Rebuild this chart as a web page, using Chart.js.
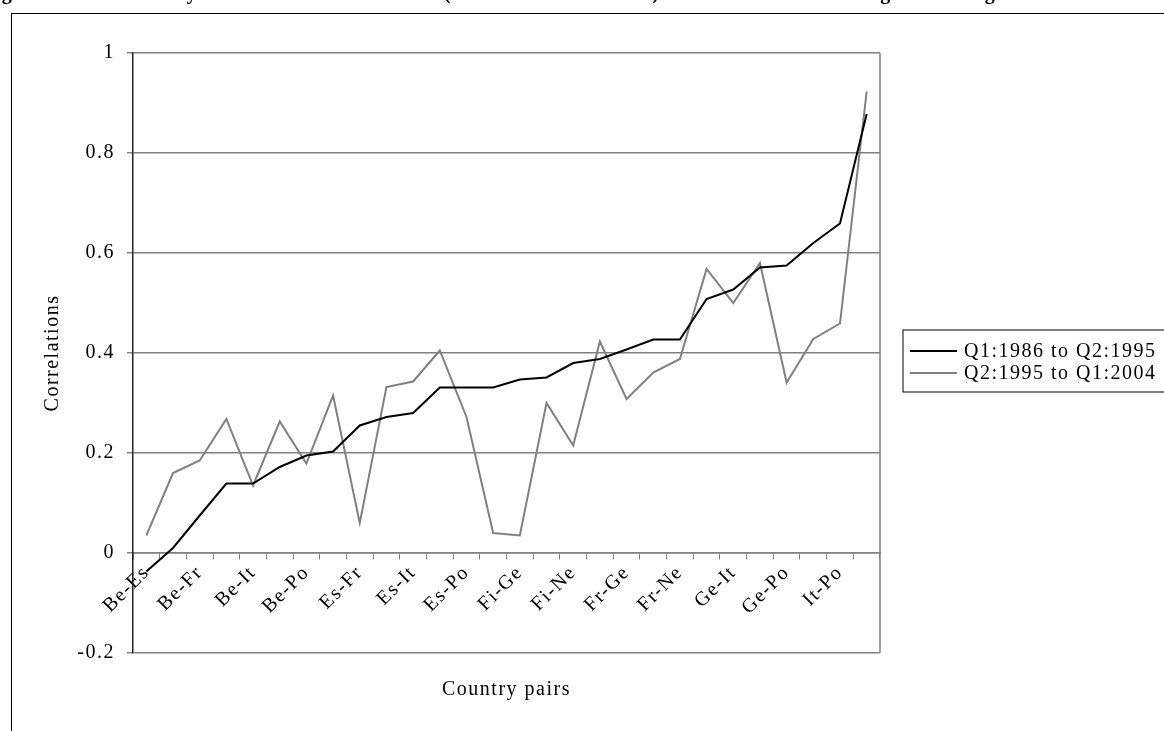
<!DOCTYPE html>
<html>
<head>
<meta charset="utf-8">
<script src="https://cdn.jsdelivr.net/npm/chart.js@4"></script>
<style>
  body { margin: 0; background: #fff; overflow: hidden; }
  #frame { position: absolute; left: 11px; top: 13px; width: 2000px; height: 2000px;
           border-left: 1px solid #000; border-top: 1.5px solid #000; }
  #myChart { position: absolute; left: 0; top: 0; }
</style>
</head>
<body>
<div id="frame"></div>
<canvas id="myChart" width="1164" height="731"></canvas>
<script>
const ctx = document.getElementById("myChart");

// country pairs, alphabetical (only every second one is labelled)
const pairs = [
	"Be-Es", "Be-Fi", "Be-Fr", "Be-Ge", "Be-It", "Be-Ne", "Be-Po",
	"Es-Fi", "Es-Fr", "Es-Ge", "Es-It", "Es-Ne", "Es-Po",
	"Fi-Fr", "Fi-Ge", "Fi-It", "Fi-Ne", "Fi-Po",
	"Fr-Ge", "Fr-It", "Fr-Ne", "Fr-Po",
	"Ge-It", "Ge-Ne", "Ge-Po",
	"It-Ne", "It-Po", "Ne-Po",
];
const period1 = [
	-0.037, 0.01, 0.075, 0.139, 0.139, 0.172, 0.195, 0.203, 0.255, 0.272,
	0.28, 0.331, 0.331, 0.331, 0.347, 0.351, 0.38, 0.388, 0.407, 0.427,
	0.427, 0.508, 0.527, 0.571, 0.575, 0.62, 0.659, 0.878,
];
const period2 = [
	0.035, 0.16, 0.185, 0.268, 0.135, 0.263, 0.179, 0.315, 0.06, 0.332,
	0.343, 0.405, 0.272, 0.04, 0.035, 0.3, 0.215, 0.423, 0.308, 0.361,
	0.388, 0.568, 0.5, 0.58, 0.341, 0.428, 0.459, 0.923,
];
const seriesNames = ["Q1:1986 to Q2:1995", "Q2:1995 to Q1:2004"];
const yTicks = [-0.2, 0, 0.2, 0.4, 0.6, 0.8, 1];

// figure caption, only its lowest pixels are inside the picture
const titleText = "Figure 6: Business Cycle Correlations of GDP (HP detrended series) in both halves ranking according to the first half";
const serif = "'Liberation Serif', 'Times New Roman', serif";

const extras = {
	id: "extras",
	beforeDraw(chart) {
		chart.ctx.letterSpacing = "1.5px";
	},
	beforeDatasetsDraw(chart) {
		const a = chart.chartArea;
		const c = chart.ctx;
		c.save();
		c.strokeStyle = "#808080";
		c.lineWidth = 1.5;
		c.beginPath();
		c.moveTo(a.right, a.top);
		c.lineTo(a.right, a.bottom);
		c.stroke();
		c.restore();
	},
	afterDraw(chart) {
		const a = chart.chartArea;
		const c = chart.ctx;
		c.save();
		c.letterSpacing = "1.5px";
		c.fillStyle = "#000";
		c.font = "bold 20px " + serif;
		c.textAlign = "left";
		c.textBaseline = "alphabetic";
		c.fillText(titleText, -19, -1.5);
		// x axis title
		c.font = "20px " + serif;
		c.textAlign = "center";
		c.textBaseline = "middle";
		c.fillText("Country pairs", (a.left + a.right) / 2, 690);
		// legend box
		c.strokeStyle = "#000";
		c.lineWidth = 1;
		c.strokeRect(903, 330, 300, 62);
		const colors = ["#000000", "#808080"];
		c.textAlign = "left";
		seriesNames.forEach((name, i) => {
			const y = 351 + i * 22;
			c.strokeStyle = colors[i];
			c.lineWidth = 2;
			c.beginPath();
			c.moveTo(910, y);
			c.lineTo(957, y);
			c.stroke();
			c.fillStyle = "#000";
			c.fillText(name, 964, y + 1);
		});
		c.restore();
	},
};

new Chart(ctx, {
	type: "line",
	data: {
		labels: pairs,
		datasets: [
			{
				label: seriesNames[0],
				data: period1,
				borderColor: "#000000",
				borderWidth: 2,
				pointRadius: 0,
				tension: 0,
				fill: false,
			},
			{
				label: seriesNames[1],
				data: period2,
				borderColor: "#808080",
				borderWidth: 2,
				pointRadius: 0,
				tension: 0,
				fill: false,
			},
		],
	},
	options: {
		responsive: false,
		animation: false,
		devicePixelRatio: 1,
		layout: { padding: { top: 53, bottom: 78, left: 0, right: 284 } },
		plugins: {
			legend: { display: false },
			tooltip: { enabled: false },
		},
		scales: {
			x: {
				type: "category",
				position: { y: 0 },
				offset: true,
				grid: {
					display: true,
					drawOnChartArea: false,
					drawTicks: true,
					tickLength: 6,
					color: "#808080",
					offset: true,
				},
				border: { display: true, color: "#808080", width: 1.5 },
				ticks: {
					autoSkip: false,
					minRotation: 45,
					maxRotation: 45,
					padding: 2,
					color: "#000",
					font: { family: serif, size: 20 },
					callback: (v, i) => (i % 2 === 0 ? pairs[i] : ""),
				},
			},
			y: {
				min: -0.2,
				max: 1,
				afterFit(scale) {
					scale.width = 133;
				},
				afterBuildTicks(scale) {
					scale.ticks = yTicks.map((v) => ({ value: v }));
				},
				grid: {
					color: "#808080",
					lineWidth: 1.5,
					drawTicks: true,
					tickLength: 6,
				},
				border: { display: true, color: "#222", width: 1.5 },
				ticks: {
					padding: 12,
					color: "#000",
					font: { family: serif, size: 20 },
					callback: (v) => String(Math.round(v * 10) / 10),
				},
				title: {
					display: true,
					text: "Correlations",
					color: "#000",
					font: { family: serif, size: 20 },
					padding: { top: 41, bottom: 0 },
				},
			},
		},
	},
	plugins: [extras],
});
</script>
</body>
</html>
